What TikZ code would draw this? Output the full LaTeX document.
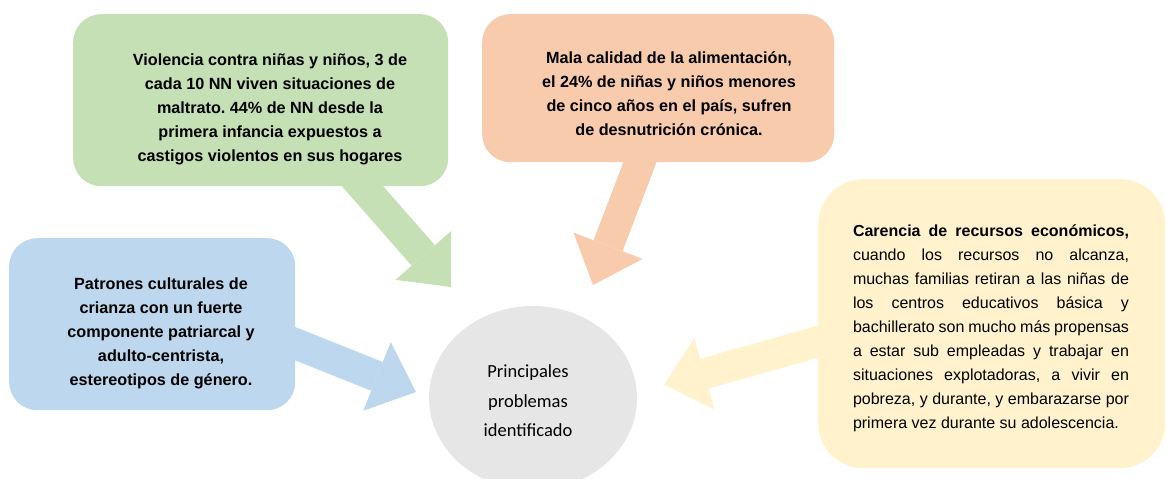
\documentclass[tikz,border=0pt]{standalone}
\usepackage{fontspec}
\setmainfont{Liberation Sans}
\newfontfamily\calibrifont{Carlito}
\usetikzlibrary{arrows.meta,positioning,calc,backgrounds,shapes.geometric}
\frenchspacing

\definecolor{boxgreen}{HTML}{C5E0B4}
\definecolor{boxorange}{HTML}{F8CBAD}
\definecolor{boxblue}{HTML}{BDD7EE}
\definecolor{boxyellow}{HTML}{FFF2CC}
\definecolor{boxgray}{HTML}{E6E6E6}

\begin{document}
\begin{tikzpicture}[x=1pt,y=-1pt,
  callbox/.style={anchor=north west,inner sep=0pt,rounded corners=28pt},
  calltext/.style={align=center,inner sep=0pt,font=\fontsize{16.2}{24}\selectfont\bfseries},
  fatarrow/.style={line width=31pt,-{Triangle[length=42pt,width=74pt,line width=0pt]}}]
  \useasboundingbox (0,0) rectangle (1167,479);

  % the four callout boxes
  \node[callbox,fill=boxgreen,minimum width=375pt,minimum height=172pt] (green) at (73,14) {};
  \node[calltext] (greentxt) at (270,109) {Violencia contra niñas y niños, 3 de\\
    cada 10 NN viven situaciones de\\
    maltrato. 44\% de NN desde la\\
    primera infancia expuestos a\\
    castigos violentos en sus hogares};

  \node[callbox,fill=boxorange,minimum width=352pt,minimum height=148pt] (orange) at (482,14) {};
  \node[calltext] (orangetxt) at (669,94) {Mala calidad de la alimentación,\\
    el 24\% de niñas y niños menores\\
    de cinco años en el país, sufren\\
    de desnutrición crónica.};

  \node[callbox,fill=boxblue,minimum width=286pt,minimum height=172pt] (blue) at (9,238) {};
  \node[calltext] (bluetxt) at (161,333) {Patrones culturales de\\
    crianza con un fuerte\\
    componente patriarcal y\\
    adulto-centrista,\\
    estereotipos de género.};

  \node[callbox,rounded corners=45pt,fill=boxyellow,minimum width=347pt,minimum height=289pt] (yellow) at (818,179) {};
  \node[align=justify,inner sep=0pt,text width=276pt,font=\fontsize{16}{24}\selectfont] (yellowtxt) at (991,328)
    {\textbf{Carencia de recursos económicos,}\linebreak
    cuando los recursos no alcanza,\linebreak
    muchas familias retiran a las niñas de\linebreak
    los centros educativos básica y\linebreak
    bachillerato son mucho más propensas\linebreak
    a estar sub empleadas y trabajar en\linebreak
    situaciones explotadoras, a vivir en\linebreak
    pobreza, y durante, y embarazarse por\linebreak
    primera vez durante su adolescencia.};

  % centre
  \node[ellipse,fill=boxgray,minimum width=208pt,minimum height=184pt] (centre) at (533,398) {};
  \node[align=center,inner sep=0pt,font=\calibrifont\fontsize{18.5}{29.5}\selectfont] (centretxt) at (528,401)
    {Principales\\problemas\\identificado};

  \coordinate (gtip) at (451,287);
  \coordinate (otip) at (593,285);
  \coordinate (btip) at (416,392);
  \coordinate (ytip) at (664,385);

  % pointers, under the boxes
  \begin{scope}[on background layer]
    \draw[fatarrow,boxgreen] ([xshift=-112pt,yshift=30pt]green.south east) -- (gtip);
    \draw[fatarrow,boxorange] ([xshift=-183pt,yshift=30pt]orange.south east) -- (otip);
    \draw[fatarrow,boxblue] ([xshift=-30pt,yshift=-7.5pt]blue.east) -- (btip);
    \draw[fatarrow,boxyellow] ([xshift=30pt,yshift=-9.5pt]yellow.west) -- (ytip);
  \end{scope}
\end{tikzpicture}
\end{document}
